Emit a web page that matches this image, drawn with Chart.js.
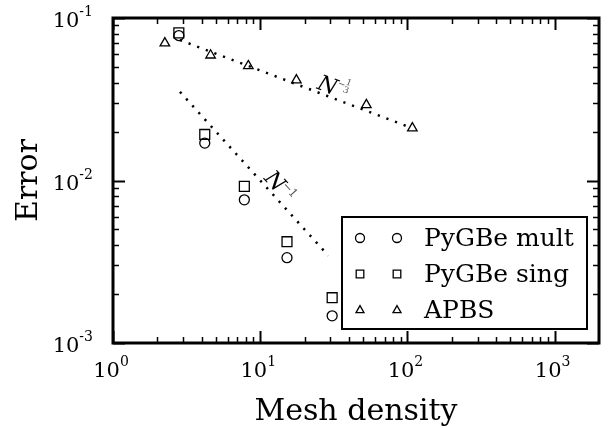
<!DOCTYPE html>
<html>
<head>
<meta charset="utf-8">
<script src="https://cdn.jsdelivr.net/npm/chart.js@4/dist/chart.umd.min.js"></script>
<style>
  html, body { margin: 0; padding: 0; background: #fff; }
  #wrap { width: 612px; height: 428px; }
</style>
</head>
<body>
<div id="wrap"><canvas id="meshChart" width="612" height="428"></canvas></div>
<script>
// Mesh density (x) for the PyGBe runs
const pygbeDensity = [2.8, 4.2, 7.8, 15.2, 30.8];
const pygbeMult = [0.078, 0.0170, 0.0076, 0.00335, 0.00147];
const pygbeSing = [0.081, 0.0192, 0.0092, 0.0042, 0.0019];

// APBS runs
const apbsDensity = [2.25, 4.6, 8.3, 17.6, 52.6, 108];
const apbsError = [0.070, 0.059, 0.0507, 0.0415, 0.0292, 0.0210];

// Reference slopes (end points of the dotted lines)
const fitInvX = [2.85, 29];
const fitInvY = [0.0351, 0.00345];
const fitCubeX = [2.85, 99];
const fitCubeY = [0.0732, 0.0216];

// Tick values
const xMajorTicks = [1, 10, 100, 1000];
const yMajorTicks = [0.001, 0.01, 0.1];
const xExponents = ['0', '1', '2', '3'];
const yExponents = ['-3', '-2', '-1'];

const seriesLabels = ['PyGBe mult', 'PyGBe sing', 'APBS'];
const seriesStyles = ['circle', 'rect', 'triangle'];

const SERIF = '"DejaVu Serif", serif';

function toPoints(xs, ys) {
    return xs.map((x, i) => ({ x: x, y: ys[i] }));
}

// Minor ticks for a log range
function minorTicks(min, max) {
    const out = [];
    for (let d = Math.floor(Math.log10(min)); d <= Math.ceil(Math.log10(max)); d++) {
        for (let m = 2; m <= 9; m++) {
            const v = m * Math.pow(10, d);
            if (v > min && v < max) out.push(v);
        }
    }
    return out;
}

function drawMarker(ctx, style, x, y, r) {
    ctx.beginPath();
    if (style === 'circle') {
        ctx.arc(x, y, r, 0, Math.PI * 2);
    } else if (style === 'rect') {
        ctx.rect(x - r, y - r, 2 * r, 2 * r);
    } else {
        ctx.moveTo(x, y - r * 1.1);
        ctx.lineTo(x + r, y + r * 0.65);
        ctx.lineTo(x - r, y + r * 0.65);
        ctx.closePath();
    }
    ctx.fillStyle = '#fff';
    ctx.fill();
    ctx.stroke();
}

// Draws "10" with a superscript exponent
function powerLabel(ctx, exp, x, y, align) {
    ctx.font = '21px ' + SERIF;
    const wBase = ctx.measureText('10').width;
    ctx.font = '14px ' + SERIF;
    const wExp = ctx.measureText(exp).width;
    let left = x;
    if (align === 'right') left = x - wBase - wExp;
    if (align === 'center') left = x - (wBase + wExp) / 2;
    ctx.textAlign = 'left';
    ctx.textBaseline = 'alphabetic';
    ctx.font = '21px ' + SERIF;
    ctx.fillText('10', left, y);
    ctx.font = '14px ' + SERIF;
    ctx.fillText(exp, left + wBase, y - 11);
}

const axesPlugin = {
    id: 'axesPlugin',
    afterDatasetsDraw(chart) {
        const ctx = chart.ctx;
        const area = chart.chartArea;
        const xs = chart.scales.x;
        const ys = chart.scales.y;
        ctx.save();
        ctx.strokeStyle = '#000';
        ctx.fillStyle = '#000';

        // ticks on all four sides, pointing inward
        const drawX = (v, len, w) => {
            const px = Math.round(xs.getPixelForValue(v)) + 0.5;
            ctx.lineWidth = w;
            ctx.beginPath();
            ctx.moveTo(px, area.bottom); ctx.lineTo(px, area.bottom - len);
            ctx.moveTo(px, area.top); ctx.lineTo(px, area.top + len);
            ctx.stroke();
        };
        const drawY = (v, len, w) => {
            const py = Math.round(ys.getPixelForValue(v)) + 0.5;
            ctx.lineWidth = w;
            ctx.beginPath();
            ctx.moveTo(area.left, py); ctx.lineTo(area.left + len, py);
            ctx.moveTo(area.right, py); ctx.lineTo(area.right - len, py);
            ctx.stroke();
        };
        minorTicks(xs.min, xs.max).forEach(v => drawX(v, 6, 1.5));
        xMajorTicks.forEach(v => drawX(v, 12, 2));
        minorTicks(ys.min, ys.max).forEach(v => drawY(v, 6, 1.5));
        yMajorTicks.forEach(v => drawY(v, 12, 2));

        // frame
        ctx.lineWidth = 3;
        ctx.strokeRect(area.left, area.top, area.right - area.left, area.bottom - area.top);

        // tick labels
        xMajorTicks.forEach((v, i) => powerLabel(ctx, xExponents[i], xs.getPixelForValue(v) - 2, area.bottom + 34, 'center'));
        yMajorTicks.forEach((v, i) => powerLabel(ctx, yExponents[i], area.left - 20, ys.getPixelForValue(v) + 9, 'right'));

        // axis titles
        ctx.font = '30px ' + SERIF;
        ctx.textAlign = 'center';
        ctx.textBaseline = 'alphabetic';
        ctx.fillText('Mesh density', (area.left + area.right) / 2, 420);
        ctx.save();
        ctx.translate(37, (area.top + area.bottom) / 2);
        ctx.rotate(-Math.PI / 2);
        ctx.fillText('Error', 0, 0);
        ctx.restore();

        // slope annotations
        const slopeLabel = (fx, fy, ax, ay, parts) => {
            const x0 = xs.getPixelForValue(fx[0]), y0 = ys.getPixelForValue(fy[0]);
            const x1 = xs.getPixelForValue(fx[1]), y1 = ys.getPixelForValue(fy[1]);
            const ang = Math.atan2(y1 - y0, x1 - x0);
            ctx.save();
            ctx.translate(xs.getPixelForValue(ax), ys.getPixelForValue(ay));
            ctx.rotate(ang);
            ctx.textAlign = 'center';
            ctx.textBaseline = 'middle';
            ctx.fillStyle = '#000';
            ctx.font = 'italic 22px ' + SERIF;
            ctx.fillText('N', 0, 0);
            ctx.fillStyle = '#555';
            parts(ctx);
            ctx.restore();
        };
        slopeLabel(fitInvX, fitInvY, 12.4, 0.0098, c => {
            c.font = '12px ' + SERIF;
            c.fillText('\u2212', 13, -6);
            c.fillText('1', 21, -6);
        });
        slopeLabel(fitCubeX, fitCubeY, 28.4, 0.0378, c => {
            c.font = '9px ' + SERIF;
            c.fillText('\u2212', 13, -7);
            c.fillText('1', 19, -11);
            c.fillText('3', 19, -3);
        });

        // legend with two markers per entry
        const lx = 342, ly = 217, lw = 245, lh = 112;
        ctx.fillStyle = '#fff';
        ctx.fillRect(lx, ly, lw, lh);
        ctx.lineWidth = 2;
        ctx.strokeStyle = '#000';
        ctx.strokeRect(lx, ly, lw, lh);
        const rows = [238, 274, 310];
        const sizes = [4.5, 3.8, 4];
        seriesLabels.forEach((label, i) => {
            ctx.lineWidth = 1.3;
            drawMarker(ctx, seriesStyles[i], 360, rows[i], sizes[i]);
            drawMarker(ctx, seriesStyles[i], 397, rows[i], sizes[i]);
            ctx.fillStyle = '#000';
            ctx.font = '25px ' + SERIF;
            ctx.textAlign = 'left';
            ctx.textBaseline = 'middle';
            ctx.fillText(label, 424, rows[i] + 1);
        });
        ctx.restore();
    }
};

const markerBase = {
    showLine: false,
    borderColor: '#000',
    backgroundColor: 'rgba(255,255,255,0)',
    borderWidth: 1.3,
    pointBorderColor: '#000',
    pointBackgroundColor: 'rgba(255,255,255,0)'
};

const fitBase = {
    showLine: true,
    borderColor: '#000',
    borderWidth: 2.5,
    borderDash: [2.2, 7],
    borderCapStyle: 'butt',
    pointRadius: 0,
    fill: false
};

new Chart(document.getElementById('meshChart'), {
    type: 'scatter',
    data: {
        datasets: [
            Object.assign({ label: 'fit N^-1', data: toPoints(fitInvX, fitInvY) }, fitBase),
            Object.assign({ label: 'fit N^-1/3', data: toPoints(fitCubeX, fitCubeY) }, fitBase),
            Object.assign({ label: seriesLabels[0], data: toPoints(pygbeDensity, pygbeMult), pointStyle: 'circle', pointRadius: 5 }, markerBase),
            Object.assign({ label: seriesLabels[1], data: toPoints(pygbeDensity, pygbeSing), pointStyle: 'rect', pointRadius: 7 }, markerBase),
            Object.assign({ label: seriesLabels[2], data: toPoints(apbsDensity, apbsError), pointStyle: 'triangle', pointRadius: 5.5 }, markerBase)
        ]
    },
    options: {
        responsive: false,
        animation: false,
        layout: { padding: { left: 113, top: 18, right: 13, bottom: 85 } },
        plugins: { legend: { display: false }, tooltip: { enabled: false } },
        scales: {
            x: { type: 'logarithmic', min: 1, max: 2000, display: false },
            y: { type: 'logarithmic', min: 0.001, max: 0.1, display: false }
        }
    },
    plugins: [axesPlugin]
});
</script>
</body>
</html>
